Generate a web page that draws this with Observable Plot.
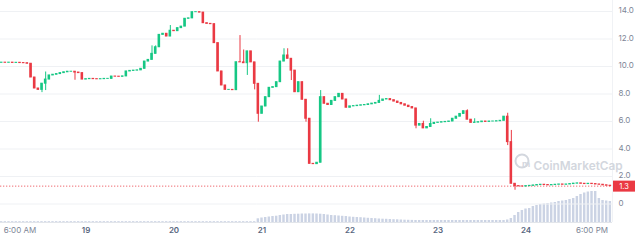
<!DOCTYPE html>
<html><head><meta charset="utf-8">
<script src="https://cdn.jsdelivr.net/npm/d3@7"></script>
<script src="https://cdn.jsdelivr.net/npm/@observablehq/plot@0.6"></script>
<style>
body{margin:0;background:#fff;}
#wrap{position:relative;width:640px;height:241px;overflow:hidden;font-family:Inter,"Noto Sans",sans-serif;}
#wrap svg{position:absolute;left:0;top:0;}
</style></head><body><div id="wrap"></div>
<script>
// ---- data ----
const startTime = "2023-01-18T01:00:00Z"; // first hourly candle
const firstOpen = 10.27;
const closes = [
 10.28,10.27,10.28,10.26,10.27,10.25,10.24,10.2,9.2,8.4,
 8.3,8.75,9.05,9.35,9.4,9.45,9.52,9.58,9.62,9.62,
 9.56,9.52,9.05,9.08,9.1,9.08,9.07,9.08,9.1,9.1,
 9.27,9.26,9.25,9.28,9.64,9.68,9.7,9.72,9.83,10.36,
 10.48,10.92,11.4,12.3,12.38,12.18,12.6,12.57,12.79,12.9,
 13.47,13.5,13.95,13.95,13.92,13.15,13.1,13.08,11.7,9.64,
 8.62,8.3,8.3,8.28,10.31,10.3,10.24,11.1,10.3,8.74,
 6.56,7.09,7.77,8.45,8.5,8.86,10.36,10.8,10.56,9.7,
 8.13,8.86,7.58,6.2,2.92,2.9,3.0,7.77,7.29,7.2,
 7.5,7.77,8.01,7.6,7.0,7.1,7.12,7.15,7.18,7.2,
 7.25,7.3,7.35,7.5,7.6,7.63,7.55,7.45,7.35,7.25,
 7.15,7.05,6.95,5.7,5.82,5.5,5.6,5.82,5.9,5.92,
 5.95,5.97,6.0,6.2,6.35,6.55,6.75,6.13,5.9,5.92,
 5.95,6.0,5.97,6.0,6.0,6.02,6.05,6.35,4.5,1.47,
 1.3,1.28,1.27,1.3,1.32,1.35,1.38,1.4,1.38,1.36,
 1.38,1.4,1.42,1.4,1.42,1.45,1.48,1.5,1.47,1.45,
 1.47,1.45,1.42,1.4,1.36,1.33,1.3
];
// wick extremes [candle index, price]
const wickHighs = [[12,9.6],[41,11.5],[42,11.5],[46,12.98],[65,12.25],[66,11.2],[77,11.29],[78,11.29],[87,8.25],[103,7.9],[115,6.02],[117,6.2],[127,6.85],[129,6.2],[138,6.6],[139,5.35]];
const wickLows = [[11,8.1],[12,8.25],[20,9.0],[67,9.35],[69,8.3],[70,5.95],[79,8.98],[83,5.95],[113,5.47],[138,4.25],[140,1.0]];
const volumes = [
 0.8,0.8,0.8,0.8,0.8,0.8,0.8,0.8,0.8,0.8,
 0.8,0.8,0.8,0.8,0.8,0.8,0.8,0.8,0.8,0.8,
 0.8,0.8,0.8,0.8,0.8,0.8,0.8,0.8,0.8,0.8,
 0.8,0.8,0.8,0.8,0.8,0.8,0.8,0.8,0.8,0.8,
 0.8,0.8,0.8,0.8,0.8,0.8,0.8,0.8,0.8,0.8,
 0.8,0.8,0.8,0.8,0.8,0.8,0.8,0.8,0.8,0.8,
 0.8,0.8,0.8,0.8,0.8,0.8,0.8,0.8,0.8,0.8,
 3.7,4.5,5,5.5,6,6.3,7,7.5,8,8,
 8.2,8.3,8.5,8.5,8.6,8.6,8.5,8.3,8,7.5,
 7,6.8,6.5,6.2,6,5.5,5.2,5,4.8,4.5,
 4.2,4,3.8,3.5,3.3,3.2,3,2.8,2.7,2.5,
 2.3,2.2,2.1,2,2,2,2,2,2,2,
 2,2,2,2,2,2,2,2,2,2,
 2,2,2,2,2,2,2,2,2.5,4,
 7,10,12,13.5,14,16,17,18,18.5,19,
 19.5,20,21,21.5,22,23,24,26,28,29.5,
 30.5,31,31,24,22,21.5,21
];
const yTicks = [0,2,4,6,8,10,12,14];
const yTickLabels = ["0","2.0","4.0","6.0","8.0","10.0","12.0","14.0"];
const dayTicks = ["2023-01-19T00:00:00Z","2023-01-20T00:00:00Z","2023-01-21T00:00:00Z","2023-01-22T00:00:00Z","2023-01-23T00:00:00Z","2023-01-24T00:00:00Z"];
const dayLabels = ["19","20","21","22","23","24"];
const timeTicks = ["2023-01-18T06:00:00Z","2023-01-24T18:00:00Z"];
const timeLabels = ["6:00 AM","6:00 PM"];
const lastPrice = 1.3;
const lastPriceLabel = "1.3";
const watermark = "CoinMarketCap";

// ---- build rows ----
const UP = "#16c784", DOWN = "#ea3943";
const H = 3600e3, t0 = new Date(startTime).getTime();
const hiMap = new Map(wickHighs), loMap = new Map(wickLows);
const candles = closes.map((c, i) => {
  const o = i === 0 ? firstOpen : closes[i - 1];
  const t = t0 + i * H;
  return {
    t: new Date(t), t1: new Date(t - 21 * 60e3), t2: new Date(t + 21 * 60e3),
    o, c,
    hi: Math.max(o, c, hiMap.has(i) ? hiMap.get(i) : -Infinity),
    lo: Math.min(o, c, loMap.has(i) ? loMap.get(i) : Infinity),
    col: c >= o ? UP : DOWN
  };
});
const volRows = volumes.map((v, i) => ({
  t1: new Date(t0 + i * H - 20 * 60e3), t2: new Date(t0 + i * H + 20 * 60e3), v
}));
const xDomain = [new Date("2023-01-18T00:41:00Z"), new Date("2023-01-24T23:35:00Z")];
const dayDates = dayTicks.map(d => new Date(d));
const timeDates = timeTicks.map(d => new Date(d));
const FONT = "Inter, 'Noto Sans', sans-serif";

function badge(index, scales, values, dimensions) {
  const g = d3.create("svg:g");
  const y = scales.y(lastPrice);
  const x0 = dimensions.width - dimensions.marginRight;
  g.append("rect").attr("x", x0 + 1).attr("y", y - 5).attr("width", 22).attr("height", 11).attr("fill", DOWN);
  g.append("text").attr("x", x0 + 12).attr("y", y + 0.8).attr("dy", "0.35em").attr("text-anchor", "middle")
    .attr("fill", "#fff").attr("font-size", 7.5).attr("font-family", FONT).text(lastPriceLabel);
  return g.node();
}

const volPlot = Plot.plot({
  width: 640, height: 241,
  marginLeft: 0, marginRight: 28, marginTop: 190, marginBottom: 19,
  style: {background: "transparent"},
  x: {type: "utc", domain: xDomain, axis: null},
  y: {domain: [0, 32], axis: null},
  marks: [
    Plot.rect(volRows, {x1: "t1", x2: "t2", y1: 0, y2: "v", fill: "#cbd3e4"}),
    Plot.ruleY([0], {stroke: "#e2e5ea"})
  ]
});

const mainPlot = Plot.plot({
  width: 640, height: 241,
  marginLeft: 0, marginRight: 28, marginTop: 0, marginBottom: 19,
  style: {background: "transparent", fontFamily: FONT},
  x: {type: "utc", domain: xDomain, axis: null},
  y: {domain: [-1.345, 14.8], axis: null},
  color: {type: "identity"},
  marks: [
    Plot.ruleY(yTicks, {stroke: "#eff1f4"}),
    Plot.ruleX([xDomain[1]], {stroke: "#f0f2f5"}),
    Plot.text([watermark], {frameAnchor: "top-left", dx: 533, dy: 161, textAnchor: "start", fontSize: 11.8, fontWeight: 600, fill: "#d3d7de"}),
    Plot.dot([0], {frameAnchor: "top-left", dx: 521.5, dy: 160.5, r: 6.5, stroke: "#d3d7de", strokeWidth: 2, fill: "none"}),
    Plot.text(["m"], {frameAnchor: "top-left", dx: 521.5, dy: 160, fontSize: 9, fontWeight: 700, fill: "#d3d7de"}),
    Plot.ruleY([lastPrice], {stroke: DOWN, strokeDasharray: "1.3,1.7", strokeOpacity: 0.75}),
    Plot.ruleX(candles, {x: "t", y1: "lo", y2: "hi", stroke: "col", strokeWidth: 1}),
    Plot.rect(candles, {x1: "t1", x2: "t2", y1: "o", y2: "c", fill: "col", insetTop: -0.5, insetBottom: -0.5}),
    Plot.text(yTicks, {y: d => d, frameAnchor: "right", dx: 6, dy: -1, textAnchor: "start", text: d => yTickLabels[yTicks.indexOf(d)], fontSize: 8, fill: "#7d8596"}),
    Plot.text(dayDates, {x: d => d, frameAnchor: "bottom", dy: 10, text: (d, i) => dayLabels[i], fontSize: 8, fontWeight: 600, fill: "#58667e"}),
    Plot.text(timeDates, {x: d => d, frameAnchor: "bottom", dy: 10, text: (d, i) => timeLabels[i], fontSize: 8, fill: "#7d8596"}),
    badge
  ]
});

const wrap = document.getElementById("wrap");
wrap.appendChild(volPlot);
wrap.appendChild(mainPlot);
</script>
</body></html>
